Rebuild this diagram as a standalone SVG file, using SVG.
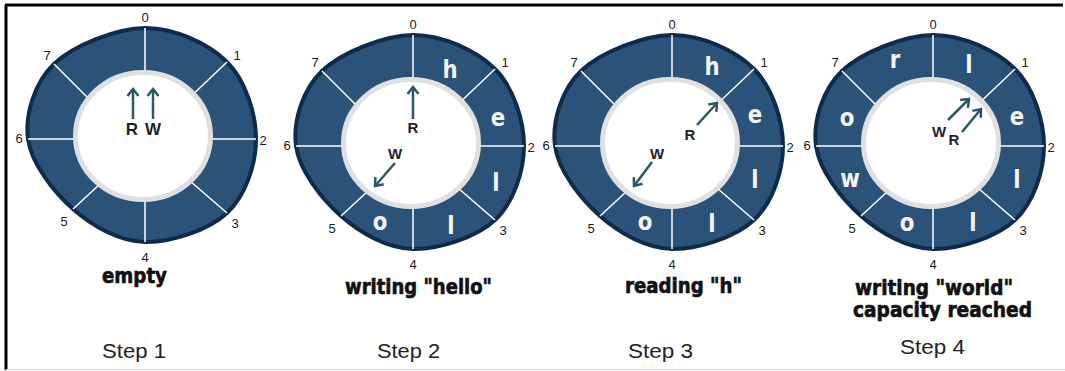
<svg xmlns="http://www.w3.org/2000/svg" width="1065" height="371" viewBox="0 0 1065 371">
<style>
.ring-shape{fill:#2b5279;stroke:#0e2b4c;stroke-width:4}
.spoke{stroke:#ffffff;stroke-width:1.5}
.hole{fill:#ffffff;stroke:#e0e0e0;stroke-width:5}
.num{font-family:"Liberation Sans",sans-serif;font-size:13px;fill:#1a1a1a;text-anchor:middle}
.cell{font-family:"DejaVu Sans",sans-serif;font-weight:bold;font-size:25px;fill:#f5f5f5;text-anchor:middle}
.cap{font-family:"DejaVu Sans",sans-serif;font-weight:bold;font-size:22px;fill:#111;stroke:#111;stroke-width:0.7}
.step{font-family:"Liberation Sans",sans-serif;font-size:20px;fill:#222}
.ptr{stroke:#2c5866;stroke-width:2.5;fill:none;marker-end:url(#ah)}
.lbl{font-family:"Liberation Sans",sans-serif;font-weight:bold;font-size:15px;fill:#1b2430;text-anchor:middle}
.frame{stroke:#000;stroke-width:3;fill:none}
</style>
<defs>
<marker id="ah" viewBox="-10 -7 12 14" refX="0" refY="0" markerWidth="12" markerHeight="14" orient="auto" markerUnits="userSpaceOnUse">
<path d="M-7,-5.5 L0,0 L-7,5.5" fill="none" stroke="#2c5866" stroke-width="2.5"/>
</marker>
<g id="ring">
<path class="ring-shape" d="M0,-111 C28.8,-111.3 63.5,-95.5 82,-77 C100.5,-58.5 111,-25.2 111,0 C111,25.2 100.5,56.8 82,74 C63.5,91.2 25.7,103.7 0,103 C-25.7,102.3 -52.5,87.2 -72,70 C-91.5,52.8 -113.8,24.2 -117,0 C-120.2,-24.2 -110.5,-56.5 -91,-75 C-71.5,-93.5 -28.8,-110.7 0,-111 Z"/>
<path class="spoke" d="M0,-50 V-111 M40,-37 L82,-77 M50,0 H111 M45,42 L82,74 M0,50 V103 M-45,45 L-72,70 M-50,0 H-117 M-50,-34 L-91,-75"/>
<ellipse class="hole" cx="-2" cy="-3" rx="67.5" ry="63.5"/>
</g>
</defs>
<rect width="1065" height="371" fill="#ffffff"/>
<g id="frame">
<path class="frame" d="M5,5 H1063 M6,5 V370"/>
<path d="M6,369.5 H1065" stroke="#d8d8d8" stroke-width="1"/>
</g>
<g id="step1">
<use href="#ring" transform="translate(145 139)"/>
<g transform="translate(145 139)">
<text class="num" x="0" y="-117">0</text><text class="num" x="92" y="-79">1</text><text class="num" x="118" y="6">2</text><text class="num" x="90" y="89">3</text><text class="num" x="0" y="123">4</text><text class="num" x="-81" y="87">5</text><text class="num" x="-126" y="4">6</text><text class="num" x="-98" y="-79">7</text>
</g>
<text class="lbl" x="132" y="135" style="font-size:17px">R</text>
<text class="lbl" x="153" y="135" style="font-size:17px">W</text>
<text class="cap" x="102" y="283" textLength="65" lengthAdjust="spacingAndGlyphs">empty</text>
<text class="step" x="102" y="358" textLength="64" lengthAdjust="spacingAndGlyphs">Step 1</text>
</g>
<g id="step2">
<use href="#ring" transform="translate(413 146)"/>
<g transform="translate(413 146)">
<text class="num" x="0" y="-117">0</text><text class="num" x="92" y="-79">1</text><text class="num" x="118" y="6">2</text><text class="num" x="90" y="89">3</text><text class="num" x="0" y="123">4</text><text class="num" x="-81" y="87">5</text><text class="num" x="-126" y="4">6</text><text class="num" x="-98" y="-79">7</text>
</g>
<text class="cell" transform="translate(450 78) scale(0.85 1)">h</text>
<text class="cell" transform="translate(498 126) scale(0.85 1)">e</text>
<text class="cell" transform="translate(496 191) scale(0.85 1)">l</text>
<text class="cell" transform="translate(451 234) scale(0.85 1)">l</text>
<text class="cell" transform="translate(380 230) scale(0.85 1)">o</text>
<text class="lbl" x="413" y="133">R</text>
<text class="lbl" x="395" y="159">W</text>
<text class="cap" x="345" y="294" textLength="147" lengthAdjust="spacingAndGlyphs">writing "hello"</text>
<text class="step" x="377" y="358" textLength="63" lengthAdjust="spacingAndGlyphs">Step 2</text>
</g>
<g id="step3">
<use href="#ring" transform="translate(672 146)"/>
<g transform="translate(672 146)">
<text class="num" x="0" y="-117">0</text><text class="num" x="92" y="-79">1</text><text class="num" x="118" y="6">2</text><text class="num" x="90" y="89">3</text><text class="num" x="0" y="123">4</text><text class="num" x="-81" y="87">5</text><text class="num" x="-126" y="4">6</text><text class="num" x="-98" y="-79">7</text>
</g>
<text class="cell" transform="translate(712 75) scale(0.85 1)">h</text>
<text class="cell" transform="translate(755 123) scale(0.85 1)">e</text>
<text class="cell" transform="translate(755 188) scale(0.85 1)">l</text>
<text class="cell" transform="translate(712 232) scale(0.85 1)">l</text>
<text class="cell" transform="translate(645 230) scale(0.85 1)">o</text>
<text class="lbl" x="690" y="140">R</text>
<text class="lbl" x="657" y="159">W</text>
<text class="cap" x="625" y="293" textLength="117" lengthAdjust="spacingAndGlyphs">reading "h"</text>
<text class="step" x="628" y="358" textLength="65" lengthAdjust="spacingAndGlyphs">Step 3</text>
</g>
<g id="step4">
<use href="#ring" transform="translate(933 146)"/>
<g transform="translate(933 146)">
<text class="num" x="0" y="-117">0</text><text class="num" x="92" y="-79">1</text><text class="num" x="118" y="6">2</text><text class="num" x="90" y="89">3</text><text class="num" x="0" y="123">4</text><text class="num" x="-81" y="87">5</text><text class="num" x="-126" y="4">6</text><text class="num" x="-98" y="-79">7</text>
</g>
<text class="cell" transform="translate(895 68) scale(0.85 1)">r</text>
<text class="cell" transform="translate(969 73) scale(0.85 1)">l</text>
<text class="cell" transform="translate(1017 125) scale(0.85 1)">e</text>
<text class="cell" transform="translate(1017 188) scale(0.85 1)">l</text>
<text class="cell" transform="translate(973 231) scale(0.85 1)">l</text>
<text class="cell" transform="translate(907 231) scale(0.85 1)">o</text>
<text class="cell" transform="translate(850 187) scale(0.85 1)">w</text>
<text class="cell" transform="translate(847 126) scale(0.85 1)">o</text>
<text class="lbl" x="939" y="137">W</text>
<text class="lbl" x="954" y="145">R</text>
<text class="cap" x="855" y="295" textLength="158" lengthAdjust="spacingAndGlyphs">writing "world"</text>
<text class="cap" x="853" y="317" textLength="179" lengthAdjust="spacingAndGlyphs">capacity reached</text>
<text class="step" x="900" y="354" textLength="65" lengthAdjust="spacingAndGlyphs">Step 4</text>
</g>
<g id="pointers">
<path class="ptr" d="M133,119 V89"/>
<path class="ptr" d="M153,119 V89"/>
<path class="ptr" d="M413,119 V87"/>
<path class="ptr" d="M395,163 L375,186"/>
<path class="ptr" d="M697,125 L717,103"/>
<path class="ptr" d="M652,162 L634,186"/>
<path class="ptr" d="M948,120 L969,99"/>
<path class="ptr" d="M962,132 L981,109"/>
</g>
</svg>
